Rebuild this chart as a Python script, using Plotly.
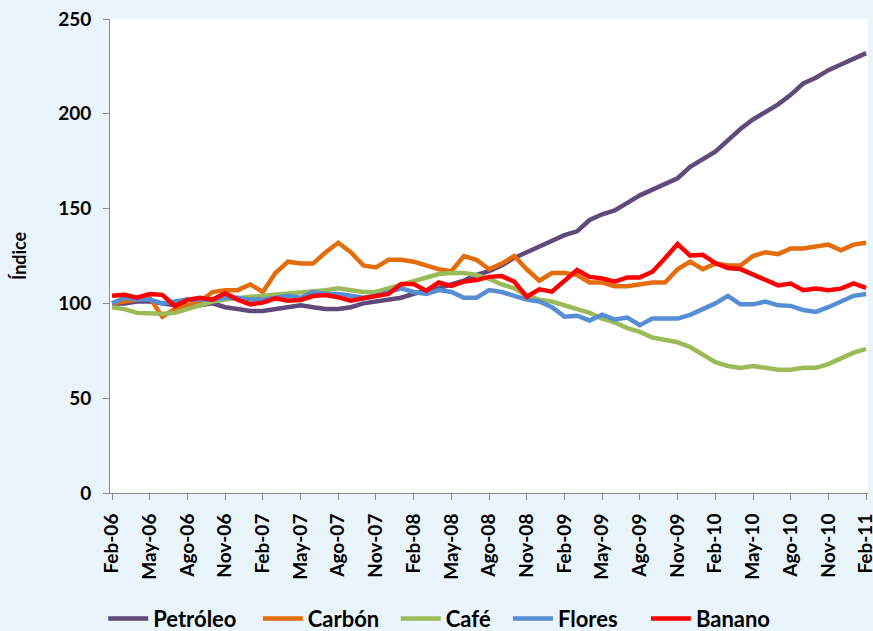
import plotly.graph_objects as go

# Meses Feb-06 ... Feb-11
meses_es = ['Ene', 'Feb', 'Mar', 'Abr', 'May', 'Jun', 'Jul', 'Ago', 'Sep', 'Oct', 'Nov', 'Dic']
meses = []
for k in range(61):
    m = (1 + k) % 12
    a = 6 + (1 + k) // 12
    meses.append('%s-%02d' % (meses_es[m], a))

petroleo = [100, 100, 101, 101, 100, 99, 99, 99, 100, 98, 97, 96, 96, 97, 98, 99, 98, 97, 97, 98,
            100, 101, 102, 103, 105, 107, 108, 110, 112, 115, 117, 120, 124, 127, 130, 133, 136, 138, 144, 147,
            149, 153, 157, 160, 163, 166, 172, 176, 180, 186, 192, 197, 201, 205, 210, 216, 219, 223, 226, 229,
            232]
carbon = [100, 101, 102, 103, 93, 97, 99, 101, 106, 107, 107, 110, 106, 116, 122, 121, 121, 127, 132, 127,
          120, 119, 123, 123, 122, 120, 118, 117, 125, 123, 118, 121, 125, 118, 112, 116, 116, 115, 111, 111,
          109, 109, 110, 111, 111, 118, 122, 118, 121, 120, 120, 125, 127, 126, 129, 129, 130, 131, 128, 131,
          132]
cafe = [98, 97, 95, 94.5, 94.5, 95, 97, 99, 101, 102, 103, 103.5, 104, 104.5, 105, 106, 106, 107, 108, 107,
        106, 106, 108, 110, 112, 114, 115.5, 116, 116, 115, 113, 110, 108, 104, 102, 101, 99, 97, 95, 92,
        90, 87, 85, 82, 80.5, 79.5, 77, 73, 69, 67, 66, 67, 66, 65, 65, 66, 66, 68, 71, 74,
        76]
flores = [100, 103, 102, 102, 100, 101, 102, 102, 102, 103, 103, 102, 102, 103, 104, 103, 106, 105, 105, 104,
          103, 104, 106, 108, 106, 105, 107, 106, 103, 103, 107, 106, 104, 102, 101, 98, 93, 93.5, 91, 94,
          91.5, 92.5, 88.5, 92, 92, 92, 94, 97, 100, 104, 99.5, 99.5, 101, 99, 98.7, 96.5, 95.5, 98, 101, 104,
          105]
banano = [104, 104.5, 103, 105, 104.5, 98.6, 101.8, 103, 102, 105.3, 102, 99.5, 100.4, 102.7, 101.4, 101.8, 103.9, 104.4, 103.2, 101.4,
          102.7, 103.9, 105, 110.2, 110.2, 106.7, 111, 109.2, 111.5, 112.3, 114, 114.4, 111.5, 103.5, 107.4, 106.2, 112.3, 117.6, 114, 113.2,
          111.5, 113.7, 113.7, 116.7, 123.8, 131.3, 125.2, 125.6, 121.3, 118.7, 118.1, 115.2, 112.2, 109.5, 110.5, 107, 107.8, 107, 107.8, 110.5,
          108.2]

series = [('Petróleo', petroleo, '#604A7B'),
          ('Carbón', carbon, '#E46C0A'),
          ('Café', cafe, '#9BBB59'),
          ('Flores', flores, '#558ED5'),
          ('Banano', banano, '#FF0000')]

# posición horizontal de cada entrada de la leyenda (fracción del área de trazado)
pos_leyenda = [-0.009, 0.195, 0.377, 0.525, 0.707]

fuente = 'Lato'
fig = go.Figure()
leyendas = {}
for n, (nombre, vals, color) in enumerate(series):
    clave = 'legend' if n == 0 else 'legend%d' % (n + 1)
    fig.add_trace(go.Scatter(x=meses, y=vals, mode='lines', name=nombre, legend=clave,
                             line=dict(color=color, width=4.5)))
    leyendas[clave] = dict(orientation='h', x=pos_leyenda[n], xref='paper', y=-0.265, yanchor='middle',
                           font=dict(size=22, family=fuente, weight='bold'),
                           bgcolor='rgba(0,0,0,0)', itemwidth=40)

fig.update_layout(
    width=873, height=631,
    margin=dict(l=110, r=5, t=19, b=138, autoexpand=False),
    paper_bgcolor='#EAF4FB',
    plot_bgcolor='white',
    font=dict(family=fuente, color='black'),
    showlegend=True,
    **leyendas
)
fig.add_annotation(text='Índice', xref='paper', yref='paper', x=-0.12, y=0.5,
                   xanchor='center', yanchor='middle', textangle=-90, showarrow=False,
                   font=dict(size=18, family=fuente, weight='bold'))
fig.update_xaxes(
    type='category', range=[-0.16, 60.15], automargin=False,
    tickmode='array', tickvals=meses[::3], ticktext=meses[::3],
    tickangle=-90, tickfont=dict(size=19, family=fuente, weight='bold'),
    showgrid=False, showline=True, linecolor='#8C8C8C', linewidth=1,
    ticks='outside', ticklen=6, tickcolor='#8C8C8C', ticklabelstandoff=6,
    ticklabeloverflow='allow',
)
fig.update_yaxes(
    range=[0, 250], tickmode='array', tickvals=[0, 50, 100, 150, 200, 250], automargin=False,
    tickfont=dict(size=19, family=fuente, weight='bold'),
    showgrid=False, showline=True, linecolor='#8C8C8C', linewidth=1,
    ticks='outside', ticklen=6, tickcolor='#8C8C8C', zeroline=False, ticklabelstandoff=8,
)

fig.write_html('out.html', config={'displayModeBar': False},
               post_script="document.body.style.margin='0px';")
